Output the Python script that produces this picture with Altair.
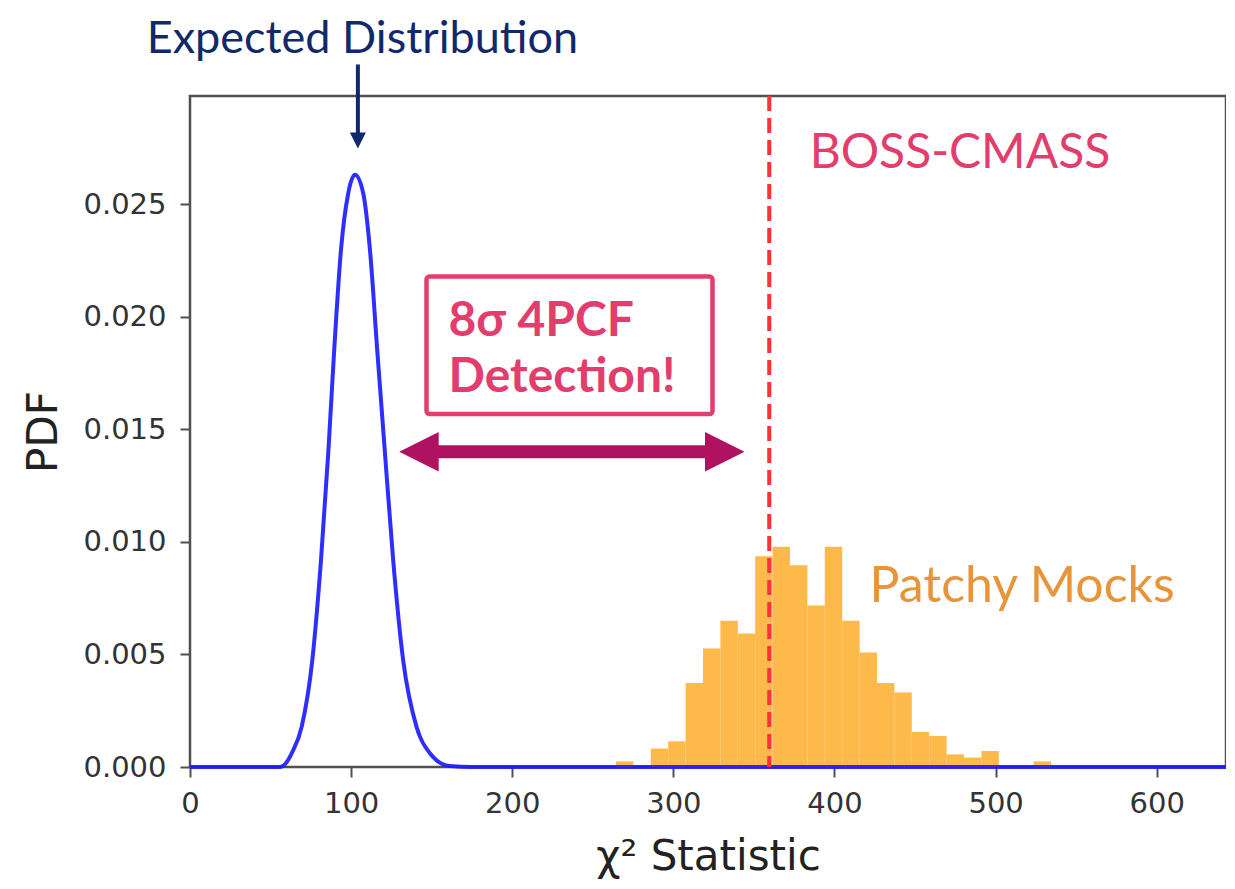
import altair as alt
import pandas as pd

# ---- data ----
# expected chi^2 distribution (blue curve)
curve_x = [0, 50, 56.0, 60.8, 63.1, 69.3, 75.9, 81.3, 85.8, 89.5, 93.7, 98.2, 102.4,
           107.5, 111.7, 116.2, 121.0, 126.1, 132.3, 140.6, 148.9, 153.0, 161.3, 175, 643]
curve_y = [0, 0, 0.0, 0.0003, 0.00061, 0.00178, 0.00474, 0.00919, 0.01394, 0.01852,
           0.02296, 0.02548, 0.0263, 0.02548, 0.02296, 0.01852, 0.01394, 0.00919,
           0.00474, 0.00178, 0.00061, 0.0003, 0.00004, 0, 0]

# Patchy mocks histogram (density)
bin_edges = [264.4, 275.2, 286.0, 296.8, 307.6, 318.4, 329.2, 340.0, 350.8, 361.6,
             372.4, 383.2, 394.0, 404.8, 415.6, 426.4, 437.2, 448.0, 458.8, 469.6,
             480.4, 491.2, 502.0, 512.8, 523.6, 534.4]
bin_density = [0.00025, 0.0, 0.00082, 0.00114, 0.00373, 0.00526, 0.00649, 0.00593,
               0.00936, 0.00978, 0.00896, 0.00717, 0.00978, 0.00649, 0.00508,
               0.00373, 0.00331, 0.00156, 0.00138, 0.00056, 0.00042, 0.00071,
               0.0, 0.0, 0.00025]

boss_cmass_chi2 = [359.5]

x_ticks = [0, 100, 200, 300, 400, 500, 600]
y_ticks = [0.000, 0.005, 0.010, 0.015, 0.020, 0.025]

# ---- chart ----
x_scale = alt.Scale(domain=[0, 643], nice=False, zero=False)
y_scale = alt.Scale(domain=[0, 0.0298], nice=False)

hist_df = pd.DataFrame({
    "x0": bin_edges[:-1],
    "x1": bin_edges[1:],
    "density": bin_density,
    "base": [0.0] * len(bin_density),
})
curve_df = pd.DataFrame({"x": curve_x, "y": curve_y})
boss_df = pd.DataFrame({"x": boss_cmass_chi2})

x_axis = alt.Axis(values=x_ticks, format="d", labelFlush=False, title="χ² Statistic")
y_axis = alt.Axis(values=y_ticks, format=".3f", title="PDF")

bars = alt.Chart(hist_df).mark_rect(color="#fdb94a").encode(
    x=alt.X("x0:Q", scale=x_scale, axis=x_axis),
    x2="x1:Q",
    y=alt.Y("density:Q", scale=y_scale, axis=y_axis),
    y2="base:Q",
)

curve = alt.Chart(curve_df).mark_line(
    color="#1c1cff", strokeWidth=4, interpolate="monotone", opacity=0.92
).encode(x="x:Q", y="y:Q")

boss_line = alt.Chart(boss_df).mark_rule(
    color="#ff3333", strokeWidth=4, strokeDash=[15, 7]
).encode(x="x:Q")

# annotation: BOSS-CMASS / Patchy Mocks labels
boss_label = alt.Chart(pd.DataFrame({"x": [384.6], "y": [0.0266], "t": ["BOSS-CMASS"]})).mark_text(
    align="left", baseline="alphabetic", font="Lato", fontSize=48, color="#e33d6e"
).encode(x="x:Q", y="y:Q", text="t:N")

patchy_label = alt.Chart(pd.DataFrame({"x": [421.8], "y": [0.00732], "t": ["Patchy Mocks"]})).mark_text(
    align="left", baseline="alphabetic", font="Lato", fontSize=50, color="#e8953a"
).encode(x="x:Q", y="y:Q", text="t:N")

# annotation: Expected Distribution with arrow
exp_label = alt.Chart(pd.DataFrame({"x": [107.0], "y": [0.03172], "t": ["Expected Distribution"]})).mark_text(
    align="center", baseline="alphabetic", font="Lato", fontSize=45, color="#10296b"
).encode(x="x:Q", y="y:Q", text="t:N")

exp_shaft = alt.Chart(pd.DataFrame({"x": [104.2], "y": [0.03120], "y2": [0.02800]})).mark_rule(
    color="#10296b", strokeWidth=4
).encode(x="x:Q", y="y:Q", y2="y2:Q")

exp_head = alt.Chart(pd.DataFrame({"x": [104.2], "y": [0.02782]})).mark_point(
    shape="M-1,-1 L1,-1 L0,1 Z", size=256, filled=True, color="#10296b", opacity=1, strokeWidth=0
).encode(x="x:Q", y="y:Q")

# annotation: detection box
box = alt.Chart(pd.DataFrame({"x": [146.8], "x2": [324.3], "y": [0.02178], "y2": [0.01568]})).mark_rect(
    fill="white", fillOpacity=0, stroke="#e33d6e", strokeWidth=4.5, cornerRadius=3
).encode(x="x:Q", x2="x2:Q", y="y:Q", y2="y2:Q")

box_text = alt.Chart(pd.DataFrame({
    "x": [160.4, 160.4], "y": [0.01914, 0.01667], "t": ["8σ 4PCF", "Detection!"]
})).mark_text(
    align="left", baseline="alphabetic", font="Lato", fontSize=48, fontWeight="bold", color="#e33d6e"
).encode(x="x:Q", y="y:Q", text="t:N")

# annotation: double arrow
arrow_shaft = alt.Chart(pd.DataFrame({"x": [150.0], "x2": [323.0], "y": [0.0140]})).mark_rule(
    color="#b01262", strokeWidth=13
).encode(x="x:Q", x2="x2:Q", y="y:Q")

arrow_heads = alt.Chart(pd.DataFrame({
    "x": [142.1, 331.9], "y": [0.0140, 0.0140], "side": ["left", "right"]
})).mark_point(filled=True, size=1560, opacity=1, strokeWidth=0, color="#b01262").encode(
    x="x:Q", y="y:Q",
    shape=alt.Shape("side:N", scale=alt.Scale(domain=["left", "right"],
                                              range=["M1,-1 L-1,0 L1,1 Z", "M-1,-1 L1,0 L-1,1 Z"]),
                    legend=None),
)

chart = alt.layer(
    bars, curve, boss_line, boss_label, patchy_label, exp_label, exp_shaft, exp_head,
    box, box_text, arrow_shaft, arrow_heads
).properties(
    width=1036, height=671,
    autosize=alt.AutoSizeParams(type="none"),
    padding={"left": 182, "top": 88, "right": 0, "bottom": 114},
).configure_view(
    stroke="#505050", strokeWidth=2.5
).configure_axis(
    domain=False, grid=False,
    labelFont="DejaVu Sans", labelFontSize=29, labelColor="#333333",
    tickColor="#505050", tickWidth=2, tickSize=10,
    titleFont="DejaVu Sans", titleFontWeight="normal", titleColor="#222222",
).configure_axisX(
    labelPadding=12, titleFontSize=42, titlePadding=18,
).configure_axisY(
    labelPadding=14, titleFontSize=42, titlePadding=17,
)

chart.save("out.html", embed_options={"renderer": "svg", "actions": False})
